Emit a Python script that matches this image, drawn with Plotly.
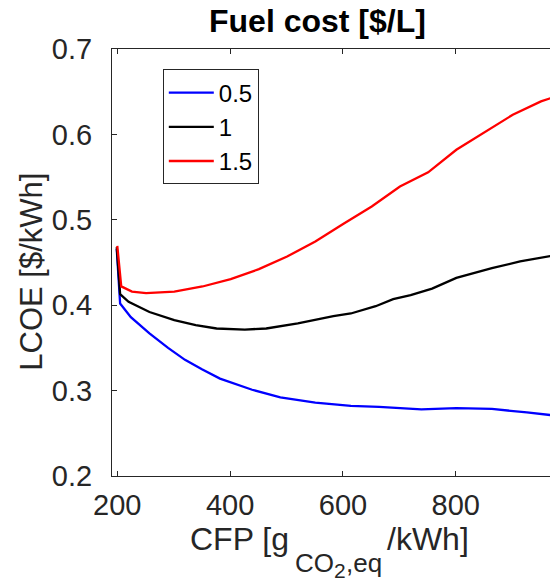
import plotly.graph_objects as go

# CFP [g CO2,eq / kWh] and LCOE [$/kWh]
cfp_05 = [199, 205, 224, 257, 290, 320, 350, 382, 439, 489, 551, 614, 664, 739, 801, 864, 926, 969]
lcoe_05 = [0.466, 0.402, 0.386, 0.367, 0.350, 0.336, 0.325, 0.314, 0.301, 0.292, 0.286, 0.282, 0.281,
           0.278, 0.2795, 0.2785, 0.2745, 0.2713]

cfp_10 = [199, 205, 220, 257, 301, 339, 376, 426, 464, 520, 583, 614, 658, 689, 720, 758, 801, 864, 914, 969]
lcoe_10 = [0.468, 0.413, 0.404, 0.392, 0.3825, 0.3766, 0.3727, 0.3715, 0.3727, 0.3786, 0.3871, 0.3903,
           0.3988, 0.407, 0.4117, 0.4195, 0.432, 0.4434, 0.4512, 0.4578]

cfp_15 = [200, 207, 226, 251, 301, 351, 401, 451, 501, 551, 601, 651, 701, 751, 801, 851, 901, 951, 969]
lcoe_15 = [0.4695, 0.422, 0.416, 0.4141, 0.416, 0.4219, 0.4305, 0.4422, 0.457, 0.4746, 0.4953, 0.5156,
           0.539, 0.5555, 0.582, 0.6023, 0.623, 0.6387, 0.6426]

series_names = ["0.5", "1", "1.5"]
series_colors = ["#0000ff", "#000000", "#ff0000"]
x_ticks = [200, 400, 600, 800]
y_ticks = [0.2, 0.3, 0.4, 0.5, 0.6, 0.7]

AX = "#262626"
FONT = "Liberation Sans, Arial, Helvetica, sans-serif"

fig = go.Figure()
for xs, ys, nm, col in zip([cfp_05, cfp_10, cfp_15], [lcoe_05, lcoe_10, lcoe_15], series_names, series_colors):
    fig.add_trace(go.Scatter(x=xs, y=ys, mode="lines", name=nm,
                             line=dict(color=col, width=2.3)))

# x-axis label pieces (MATLAB TeX style with nested subscript)
xlabel_parts = [
    ("CFP [g", 32, 77, -82),
    ("CO", 26, 182, -103),
    ("2", 21, 221, -107),
    (",eq", 26, 233, -103),
    ("/kWh]", 32, 274, -82),
]

annotations = [
    dict(text="<b>Fuel cost [$/L]</b>", xref="paper", yref="paper", x=0.470, y=1.0,
         xanchor="center", yanchor="bottom", showarrow=False, yshift=8,
         font=dict(size=32, color="#000000", family=FONT)),
    dict(text="LCOE [$/kWh]", xref="paper", yref="paper", x=-0.183, y=0.478,
         xanchor="center", yanchor="middle", textangle=-90, showarrow=False,
         font=dict(size=31, color=AX, family=FONT)),
]
for txt, sz, xs_, ys_ in xlabel_parts:
    annotations.append(dict(text=txt, xref="paper", yref="paper", x=0, y=0,
                            xanchor="left", yanchor="bottom", xshift=xs_, yshift=ys_,
                            borderpad=0, showarrow=False,
                            font=dict(size=sz, color=AX, family=FONT)))

fig.update_layout(
    width=550, height=583,
    margin=dict(l=112, r=0, t=49, b=107),
    paper_bgcolor="white", plot_bgcolor="white",
    font=dict(family=FONT, color=AX, size=29),
    showlegend=True,
    legend=dict(x=0.116, y=0.952, xanchor="left", yanchor="top",
                bordercolor=AX, borderwidth=1, bgcolor="white",
                font=dict(size=24, color="#000000", family=FONT),
                itemwidth=45, tracegroupgap=0),
    xaxis=dict(range=[190.6, 967], tickvals=x_ticks, ticktext=[str(v) for v in x_ticks],
               showgrid=False, zeroline=False, showline=True, linecolor=AX, linewidth=1,
               mirror="ticks", ticks="inside", ticklen=5, tickcolor=AX, tickwidth=1,
               tickfont=dict(size=29, color=AX), ticklabelstandoff=3),
    yaxis=dict(range=[0.2, 0.7], tickvals=y_ticks, ticktext=["%.1f" % v for v in y_ticks],
               showgrid=False, zeroline=False, showline=True, linecolor=AX, linewidth=1,
               mirror=False, ticks="inside", ticklen=5, tickcolor=AX, tickwidth=1,
               tickfont=dict(size=29, color=AX), ticklabelstandoff=13),
    annotations=annotations,
)

fig.write_html("out.html")
